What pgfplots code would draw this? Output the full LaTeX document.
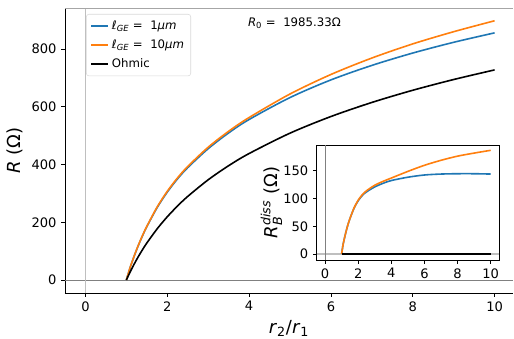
\documentclass[border=0pt]{standalone}
\usepackage{pgfplots}
\pgfplotsset{compat=1.18}
\usepackage{fontspec}
\setmainfont{DejaVu Sans}
\definecolor{mplblue}{HTML}{1F77B4}
\definecolor{mplorange}{HTML}{FF7F0E}

\pgfplotstableread{
x ohm orange blue
1 0 0 0
1.05 15.4 24.0 23.9
1.1 30.1 46.9 46.6
1.2 57.6 86.7 86.1
1.3 82.9 122.9 122.1
1.4 106.3 155.9 154.8
1.5 128.1 185.9 184.6
1.75 176.8 252.3 250.2
2 219.0 307.3 304.4
2.25 256.2 353.6 350.1
2.5 289.5 393.2 389.2
3 347.1 459.9 454.8
3.5 395.9 515.1 509.4
4 438.0 562.7 555.9
5 508.6 644.2 631.9
6 566.2 711.8 693.0
7 614.9 768.7 743.2
8 657.1 817.7 786.0
9 694.3 859.9 823.2
10 727.6 897.8 855.9
}\maindata

\pgfplotstableread{
x orange blue ohm
1 0 0 0
1.05 9.5 9.5 0
1.1 18.5 18.5 0
1.2 32 32 0
1.3 44 44 0
1.4 54.5 54.5 0
1.5 63.5 63.5 0
1.75 83 82.5 0
2 97 96 0
2.25 107 105.5 0
2.5 114 112 0
3 124 121 0
3.5 131 127.5 0
4 137 132.5 0
5 149 138.5 0
6 160 142.5 0
7 169 144.2 0
8 176.5 144.8 0
9 182 144.8 0
10 187 144.2 0
}\insetdata

\newcommand{\tickfont}{\fontsize{9.8}{11}\selectfont}
\newcommand{\labfont}{\fontsize{13.5}{15}\selectfont}
\newcommand{\legfont}{\fontsize{8.8}{10}\selectfont}

\begin{document}
\begin{tikzpicture}
\begin{axis}[name=main,
  scale only axis, width=336pt, height=213.75pt,
  xmin=-0.5, xmax=10.45, ymin=-45, ymax=942,
  axis x line*=bottom, axis y line*=left,
  axis line style={-, black, line width=0.6pt},
  xtick={0,2,...,10}, ytick={0,200,...,800},
  tick align=outside, major tick length=2.8pt,
  tick style={black, line width=0.6pt},
  ticklabel style={font=\tickfont},
  /pgf/number format/assume math mode=true,
  xlabel={\labfont\textit{r}$_{\mbox{\fontsize{9.5}{10}\selectfont 2}}$/\textit{r}$_{\mbox{\fontsize{9.5}{10}\selectfont 1}}$},
  ylabel={\labfont\textit{R} (Ω)},
  legend style={at={(0.047,0.979)}, anchor=north west, draw=black!15,
    rounded corners=2pt, font=\legfont, row sep=2pt, inner sep=3pt},
  legend cell align=left,
  legend image code/.code={\draw[mark repeat=2,mark phase=2,#1] (0pt,0pt) -- (13pt,0pt);},
]
\addplot[gray, line width=0.6pt, forget plot] coordinates {(-0.5,0) (10.45,0)};
\addplot[black!25, line width=0.6pt, forget plot] coordinates {(0,-45) (0,942)};
\addplot[mplblue, line width=1.2pt, smooth] table[x=x, y=blue] {\maindata};
\addlegendentry{\textit{ℓ}$_{\mbox{\fontsize{6.3}{7}\selectfont\itshape GE}}$ = \ 1\textit{μm}}
\addplot[mplorange, line width=1.2pt, smooth] table[x=x, y=orange] {\maindata};
\addlegendentry{\textit{ℓ}$_{\mbox{\fontsize{6.3}{7}\selectfont\itshape GE}}$ = \ 10\textit{μm}}
\addplot[black, line width=1.2pt, smooth] table[x=x, y=ohm] {\maindata};
\addlegendentry{Ohmic}
\draw[gray!70, line width=0.6pt] (rel axis cs:0,1) -- (rel axis cs:1,1);
\node[anchor=west, font=\legfont] at (axis cs:3.86,890) {\textit{R}$_{\mbox{\fontsize{6.3}{7}\selectfont 0}}$ = \ 1985.33Ω};
\end{axis}

\begin{axis}[
  at={(main.south west)}, anchor=south west, xshift=188.8pt, yshift=24.75pt,
  scale only axis, width=136.7pt, height=86pt,
  xmin=-0.5, xmax=10.5, ymin=-10.8, ymax=196,
  axis background/.style={fill=white},
  axis line style={black, line width=0.6pt},
  xtick={0,2,...,10}, ytick={0,50,100,150},
  xtick pos=bottom, ytick pos=left,
  tick align=outside, major tick length=2.8pt,
  tick style={black, line width=0.6pt},
  ticklabel style={font=\tickfont},
  /pgf/number format/assume math mode=true,
  ylabel={\labfont\textit{R}$^{\mbox{\fontsize{9.5}{10}\selectfont\itshape diss}}_{\mbox{\fontsize{9.5}{10}\selectfont\itshape B}}$ (Ω)},
  ylabel style={yshift=-6pt},
]
\addplot[black!25, line width=0.8pt] coordinates {(-0.5,0) (10.5,0)};
\addplot[gray, line width=0.6pt] coordinates {(0,-10.8) (0,196)};
\addplot[mplblue, line width=1.2pt, smooth] table[x=x, y=blue] {\insetdata};
\addplot[mplorange, line width=1.2pt, smooth] table[x=x, y=orange] {\insetdata};
\addplot[black, line width=1.5pt] table[x=x, y=ohm] {\insetdata};
\end{axis}
\pgfresetboundingbox
\path[use as bounding box] ([xshift=-48.75pt,yshift=-34.5pt]main.south west) rectangle ([xshift=0.75pt,yshift=6pt]main.north east);
\end{tikzpicture}
\end{document}
